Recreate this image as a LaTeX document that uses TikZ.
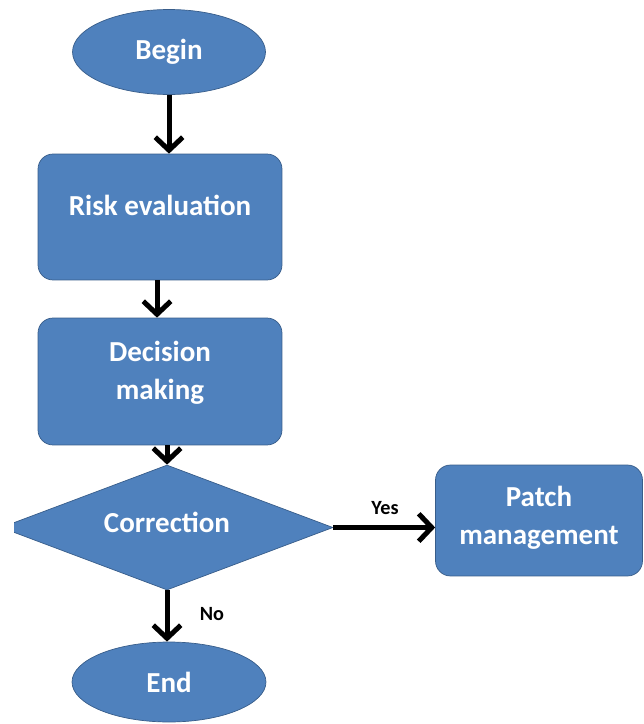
\documentclass[tikz,border=0pt]{standalone}
\usepackage{fontspec}
\setmainfont{Carlito}
\usetikzlibrary{shapes.geometric,arrows.meta}

\definecolor{boxblue}{HTML}{4F81BD}
\definecolor{boxline}{HTML}{385D8A}

\tikzset{
  shapetext/.style={text=white,font=\bfseries\fontsize{16.5}{21.5}\selectfont},
  terminal/.style={ellipse,draw=boxline,fill=boxblue,shapetext,inner sep=0pt},
  block/.style={rectangle,rounded corners=0.3cm,draw=boxline,fill=boxblue,shapetext,align=center,inner sep=0pt,text depth=0.45cm},
  choice/.style={diamond,aspect=2.6,draw=boxline,fill=boxblue,shapetext,inner sep=0pt,text depth=0.2cm},
  flow/.style={-{Straight Barb[length=0.26cm,width=0.55cm]},line width=0.1cm},
  answer/.style={font=\bfseries\fontsize{11.5}{14}\selectfont}
}

\begin{document}
\begin{tikzpicture}[x=0.02cm,y=-0.02cm]
    \useasboundingbox (0,0) rectangle (644,724);
    % Shapes
    \node[terminal,minimum width=3.86cm,minimum height=1.7cm] (begin) at (169,52) {Begin};
    \node[block,minimum width=4.88cm,minimum height=2.52cm] (risk) at (160,217) {Risk evaluation};
    \node[block,minimum width=4.88cm,minimum height=2.54cm] (decision) at (160,381.5) {Decision\\making};
    \begin{scope}
      \clip (14,0) rectangle (644,724);
      \node[choice,minimum width=6.64cm,minimum height=2.5cm] (correction) at (167,527.5) {Correction};
    \end{scope}
    \node[block,minimum width=4.14cm,minimum height=2.22cm,text depth=0.21cm] (patch) at (539,520.5) {Patch\\management};
    \node[terminal,minimum width=3.88cm,minimum height=1.6cm] (end) at (169,682) {End};
    % Arrows
    \draw[flow] (begin.south) -- (begin.south |- risk.north);
    \draw[flow] ([xshift=-0.06cm]risk.south) -- ([xshift=-0.06cm]decision.north);
    \draw[flow] (decision.south -| correction.north) -- (correction.north);
    \draw[flow] (correction.east) -- (correction.east -| patch.west);
    \draw[flow] (correction.south) -- (correction.south |- end.north);
    % Labels
    \node[answer] (yes) at (385,508) {Yes};
    \node[answer] (no) at (212,614) {No};
\end{tikzpicture}
\end{document}
